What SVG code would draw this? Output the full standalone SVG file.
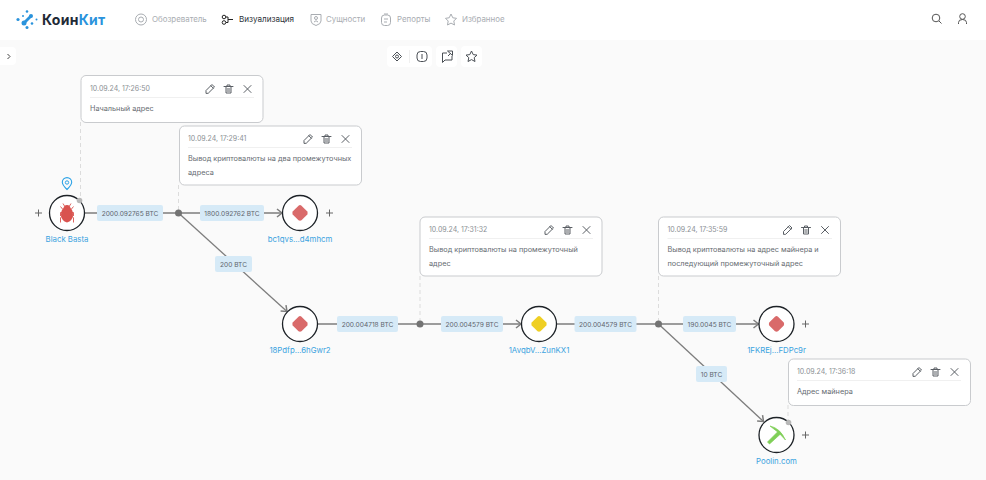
<svg xmlns="http://www.w3.org/2000/svg" width="986" height="480" viewBox="0 0 986 480">
<style>
text{font-family:Inter,"Noto Sans","Liberation Sans",sans-serif}
.nav{font-size:7.9px;fill:#a9adb2}
.navi{fill:none;stroke:#a9adb2;stroke-width:1}
.tool{fill:none;stroke:#4a4f55;stroke-width:1}
.card{fill:#fff;stroke:#c9cbce;stroke-width:1}
.date{font-size:7px;fill:#8b8f94}
.note{font-size:7.3px;fill:#666b71}
.sep{stroke:#f0f0f0;stroke-width:1}
.ic{fill:none;stroke:#5a5f65;stroke-width:1;stroke-linejoin:round;stroke-linecap:round}
.edge{stroke:#7d7d7d;stroke-width:1.3;fill:none}
.dash{stroke:#dcdcdc;stroke-width:1;stroke-dasharray:4 3;fill:none}
.lb{fill:#d6eaf7}
.lt{font-size:6.6px;fill:#5f656d;text-anchor:middle}
.nc{fill:#fff;stroke:#1d2227;stroke-width:1.3}
.name{font-size:7.8px;fill:#3ba3e0;text-anchor:middle}
.plus{stroke:#666;stroke-width:1;fill:none}
.jn{fill:#737373}
.anchor{fill:#b8b8b8}
</style>
<defs>
<marker id="arr" markerWidth="10" markerHeight="10" refX="8" refY="5" orient="auto" markerUnits="userSpaceOnUse"><path d="M3 1 L8 5 L3 9" fill="none" stroke="#7d7d7d" stroke-width="1.5"/></marker>
<g id="tools" class="ic"><path d="M-1 8 L-1 5.500 L5 -.5 L7.500 2 L1.500 8 Z M3.800 .7 L6.300 3.200"/><path d="M17 1.500 H26 M19 1.500 V8 H24 V1.500 M20 1.500 V0 H23 V1.500 M20.200 4 H22.800 M20.200 6 H22.800"/><path d="M37 .5 L44 7.500 M44 .5 L37 7.500"/></g>
<path id="dia" d="M0 -8 Q.8 -8 1.500 -7.300 L7.300 -1.500 Q8 0 7.300 1.500 L1.500 7.300 Q0 8 -1.500 7.300 L-7.300 1.500 Q-8 0 -7.300 -1.500 L-1.500 -7.300 Q-.8 -8 0 -8Z"/>
<path id="plus" d="M-3.500 0 H3.500 M0 -3.500 V3.500"/>
</defs>
<rect width="986" height="480" fill="#fafafa"/>
<rect width="986" height="40" fill="#fff"/>
<g id="header">
<g fill="#2a93dc"><circle cx="18" cy="19.500" r="1.600"/><circle cx="24" cy="23" r="2.500"/><circle cx="27" cy="11.500" r="1.300"/><circle cx="31" cy="16" r="2"/><circle cx="32" cy="23.500" r="1.300"/><circle cx="27" cy="27.500" r="1.500"/><circle cx="36.500" cy="19.500" r="1"/><circle cx="23" cy="16" r="1"/><path d="M23 22 L30 15 L32 17 L25 24Z"/></g>
<text x="42" y="25" font-size="14" font-weight="700" fill="#1f2a36" letter-spacing=".3">Коин<tspan fill="#2a93dc">Кит</tspan></text>
<g class="navi"><circle cx="141" cy="19.500" r="5.500"/><circle cx="141" cy="19.500" r="2.500"/></g>
<text class="nav" x="152" y="22">Обозреватель</text>
<g fill="none" stroke="#222" stroke-width="1"><circle cx="224" cy="17" r="1.800"/><circle cx="224" cy="22.500" r="1.800"/><path d="M226 17 H228 V22.500 H226 M228 19.500 H233"/></g>
<text x="239" y="22" font-size="8.100" fill="#2c3238">Визуализация</text>
<g class="navi"><path d="M311 14.500 H321 V21 Q321 24 316 25.500 Q311 24 311 21Z"/><circle cx="316" cy="18" r="1.500"/><path d="M314 22 Q316 19.500 318 22"/></g>
<text class="nav" x="326" y="22">Сущности</text>
<g class="navi"><rect x="381.500" y="15" width="9" height="10.500" rx="3"/><path d="M384 14 H388 M384 19 H388 M384 22 H387"/></g>
<text class="nav" x="397" y="22">Репорты</text>
<path class="navi" d="M451 14 L452.800 17.800 L456.500 18.300 L453.800 21 L454.500 25 L451 23.100 L447.500 25 L448.200 21 L445.500 18.300 L449.200 17.800Z"/>
<text class="nav" x="462" y="22">Избранное</text>
<g fill="none" stroke="#555" stroke-width="1"><circle cx="936" cy="18" r="3.800"/><path d="M939 21 L941.500 23.500"/><circle cx="962.500" cy="16.500" r="2.800"/><path d="M958.500 24 V22.500 Q958.500 19.500 962.500 19.500 Q966.500 19.500 966.500 22.500 V24"/></g>
</g>
<g id="toolbar">
<rect x="-6" y="47" width="22" height="18" rx="4" fill="#fff"/>
<path d="M7.500 54 L10 56.500 L7.500 59" fill="none" stroke="#444" stroke-width="1"/>
<rect x="387" y="46" width="45" height="21" rx="4" fill="#fff"/>
<rect x="436" y="46" width="21" height="21" rx="4" fill="#fff"/>
<rect x="461" y="46" width="21" height="21" rx="4" fill="#fff"/>
<path d="M409.500 50 V63" stroke="#f0f0f0"/>
<g class="tool"><path d="M397 52 L401.500 56.500 L397 61 L392.500 56.500Z"/><circle cx="397" cy="56.500" r="1.500"/><rect x="417" y="51.500" width="10" height="10" rx="3.500"/><path d="M422 54 V59"/><path d="M442.500 53 H447 M452 56 V60 H445 L442.500 62.500 V53 M447.500 51 H452.500 V55.500 L447.500 51 M448 56 L451 53"/><path d="M471.500 51 L473.200 54.600 L477 55.100 L474.200 57.700 L475 61.500 L471.500 59.600 L468 61.500 L468.800 57.700 L466 55.100 L469.800 54.600Z"/></g>
</g>
<g id="connectors">
<path class="dash" d="M80.500 122 V198"/>
<path class="dash" d="M178.500 185 V213"/>
<path class="dash" d="M420 276 V324"/>
<path class="dash" d="M658.500 276 V324"/>
<path class="dash" d="M788 405 V422"/>
<path class="edge" d="M85 213 H178.500"/>
<path class="edge" d="M178.500 213 H282" marker-end="url(#arr)"/>
<path class="edge" d="M178.500 213 L287 311.500" marker-end="url(#arr)"/>
<path class="edge" d="M318 324 H420"/>
<path class="edge" d="M420 324 H521" marker-end="url(#arr)"/>
<path class="edge" d="M557 324 H658.500"/>
<path class="edge" d="M658.500 324 H758.500" marker-end="url(#arr)"/>
<path class="edge" d="M658.500 324 L763.500 421.500" marker-end="url(#arr)"/>
<circle class="jn" cx="178.500" cy="213" r="3.500"/>
<circle class="jn" cx="420" cy="324" r="3.500"/>
<circle class="jn" cx="658.500" cy="324" r="3.500"/>
<g id="edge-labels">
<rect class="lb" x="97" y="205" width="66" height="16" rx="2"/><text class="lt" x="130" y="215.500">2000.092765 BTC</text>
<rect class="lb" x="200" y="205" width="64" height="16" rx="2"/><text class="lt" x="232" y="215.500">1800.092762 BTC</text>
<rect class="lb" x="215" y="256" width="37" height="16" rx="2"/><text class="lt" x="233.500" y="266.500">200 BTC</text>
<rect class="lb" x="337" y="316" width="61" height="16" rx="2"/><text class="lt" x="367.500" y="326.500">200.004718 BTC</text>
<rect class="lb" x="441" y="316" width="62" height="16" rx="2"/><text class="lt" x="472" y="326.500">200.004579 BTC</text>
<rect class="lb" x="574.500" y="316" width="62" height="16" rx="2"/><text class="lt" x="605.500" y="326.500">200.004579 BTC</text>
<rect class="lb" x="683" y="316" width="53" height="16" rx="2"/><text class="lt" x="709.500" y="326.500">190.0045 BTC</text>
<rect class="lb" x="696" y="366" width="31" height="16" rx="2"/><text class="lt" x="711.500" y="376.500">10 BTC</text>
</g>
</g>
<g id="node-blackbasta">
<circle class="nc" cx="67" cy="213" r="17.500"/>
<g fill="none" stroke="#d9534f" stroke-width=".9"><path d="M63 203.500 L64.500 206 M71 203.500 L69.500 206 M62.500 209 L60.500 206.500 M71.500 209 L73.500 206.500 M62 212.500 H60.500 V216 M72 212.500 H73.500 V216 M62 216 L60.500 218 V222.500 M72 216 L73.500 218 V222.500"/></g>
<path d="M67 205 Q70 205 70.500 208 Q73 210 73 215 Q72.500 221 67 222.500 Q61.500 221 61 215 Q61 210 63.500 208 Q64 205 67 205Z" fill="#d9534f"/>
<path d="M67 189.500 Q62.300 185 62.300 182.300 A4.700 4.700 0 0 1 71.700 182.300 Q71.700 185 67 189.500Z" fill="none" stroke="#2ea3e6" stroke-width="1.100"/><circle cx="67" cy="182.500" r="1.700" fill="none" stroke="#2ea3e6"/>
<circle class="anchor" cx="79.500" cy="200.500" r="2.800"/>
<use href="#plus" x="38.500" y="213" class="plus"/>
<text class="name" x="67" y="242">Black Basta</text>
</g>
<g id="node-bc1">
<circle class="nc" cx="300" cy="213" r="17.500"/>
<use href="#dia" x="300" y="213" fill="#d96a6a"/>
<use href="#plus" x="329.500" y="213" class="plus"/>
<text class="name" x="300" y="242">bc1qvs...d4mhcm</text>
</g>
<g id="node-18pdfp">
<circle class="nc" cx="300" cy="324" r="17.500"/>
<use href="#dia" x="300" y="324" fill="#d96a6a"/>
<text class="name" x="300" y="353">18Pdfp...6hGwr2</text>
</g>
<g id="node-1avqb">
<circle class="nc" cx="539" cy="324" r="17.500"/>
<use href="#dia" x="539" y="324" fill="#efcf24"/>
<text class="name" x="539" y="353">1AvqbV...ZunKX1</text>
</g>
<g id="node-1fkrej">
<circle class="nc" cx="776.500" cy="324" r="17.500"/>
<use href="#dia" x="776.500" y="324" fill="#d96a6a"/>
<use href="#plus" x="805.500" y="324" class="plus"/>
<text class="name" x="776.500" y="353">1FKREj...FDPc9r</text>
</g>
<g id="node-poolin">
<circle class="nc" cx="776.500" cy="435" r="17.500"/>
<path d="M770 426 Q780 428 785.500 440 Q779 432 770 426Z M778.500 431 L781 433.500 L769.500 444 L767.500 442Z" fill="#7fcf57" stroke="#7fcf57" stroke-width=".7"/>
<circle class="anchor" cx="788.500" cy="422.500" r="2.800"/>
<use href="#plus" x="805.500" y="435" class="plus"/>
<text class="name" x="776.500" y="464">Poolin.com</text>
</g>
<g id="note-1">
<rect class="card" x="81" y="75.500" width="182" height="47" rx="5"/>
<text class="date" x="90" y="91">10.09.24, 17:26:50</text>
<use href="#tools" x="207" y="85"/>
<path class="sep" d="M90 97.500 H254"/>
<text class="note" x="90" y="111">Начальный адрес</text>
</g>
<g id="note-2">
<rect class="card" x="179.500" y="126" width="182" height="59" rx="5"/>
<text class="date" x="188" y="141">10.09.24, 17:29:41</text>
<use href="#tools" x="305" y="135"/>
<path class="sep" d="M188 147.500 H352"/>
<text class="note" x="188" y="161">Вывод криптовалюты на два промежуточных</text>
<text class="note" x="188" y="175">адреса</text>
</g>
<g id="note-3">
<rect class="card" x="420" y="217" width="182" height="59" rx="5"/>
<text class="date" x="429" y="232">10.09.24, 17:31:32</text>
<use href="#tools" x="546" y="226"/>
<path class="sep" d="M429 238.500 H593"/>
<text class="note" x="429" y="252">Вывод криптовалюты на промежуточный</text>
<text class="note" x="429" y="266">адрес</text>
</g>
<g id="note-4">
<rect class="card" x="658.500" y="217" width="182" height="59" rx="5"/>
<text class="date" x="667.500" y="232">10.09.24, 17:35:59</text>
<use href="#tools" x="784.500" y="226"/>
<path class="sep" d="M667.500 238.500 H832"/>
<text class="note" x="667.500" y="252">Вывод криптовалюты на адрес майнера и</text>
<text class="note" x="667.500" y="266">последующий промежуточный адрес</text>
</g>
<g id="note-5">
<rect class="card" x="788.500" y="359" width="182" height="46.500" rx="5"/>
<text class="date" x="797" y="374">10.09.24, 17:36:18</text>
<use href="#tools" x="914" y="368"/>
<path class="sep" d="M797 380.500 H961"/>
<text class="note" x="797" y="394">Адрес майнера</text>
</g>
</svg>
